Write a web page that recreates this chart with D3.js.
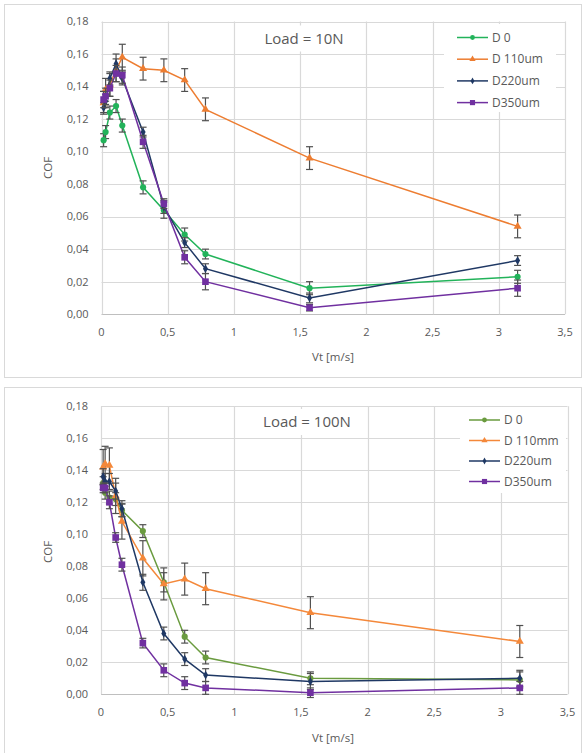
<!DOCTYPE html>
<html>
<head>
<meta charset="utf-8">
<script src="https://cdn.jsdelivr.net/npm/d3@7"></script>
<style>
  html, body { margin: 0; padding: 0; background: #fff; }
  svg { display: block; font-family: "Open Sans", "Liberation Sans", sans-serif; }
</style>
</head>
<body>
<svg width="587" height="753"></svg>
<script>
// velocities [m/s]
const vt = [0.016, 0.031, 0.063, 0.11, 0.157, 0.314, 0.471, 0.628, 0.785, 1.571, 3.142];

const xTicks = [0, 0.5, 1, 1.5, 2, 2.5, 3, 3.5];
const yTicks = [0, 0.02, 0.04, 0.06, 0.08, 0.10, 0.12, 0.14, 0.16, 0.18];

// Load = 10N
const d0_10    = [0.107, 0.112, 0.124, 0.128, 0.116, 0.078, 0.064, 0.049, 0.037, 0.016, 0.023];
const d110_10  = [0.130, 0.138, 0.141, 0.150, 0.158, 0.151, 0.150, 0.144, 0.126, 0.096, 0.054];
const d220_10  = [0.127, 0.131, 0.145, 0.154, 0.145, 0.112, 0.066, 0.044, 0.028, 0.010, 0.033];
const d350_10  = [0.132, 0.134, 0.139, 0.148, 0.147, 0.106, 0.068, 0.035, 0.020, 0.004, 0.016];
const e_d0_10   = [0.004, 0.004, 0.004, 0.004, 0.004, 0.004, 0.005, 0.004, 0.003, 0.004, 0.004];
const e_d110_10 = [0.007, 0.007, 0.007, 0.007, 0.008, 0.007, 0.007, 0.007, 0.007, 0.007, 0.007];
const e_d220_10 = [0.003, 0.004, 0.004, 0.006, 0.004, 0.003, 0.004, 0.003, 0.003, 0.003, 0.003];
const e_d350_10 = [0.005, 0.005, 0.005, 0.005, 0.005, 0.004, 0.003, 0.004, 0.005, 0.002, 0.005];

// Load = 100N
const d0_100   = [0.132, 0.126, 0.123, 0.122, 0.115, 0.102, 0.070, 0.036, 0.023, 0.010, 0.009];
const d110_100 = [0.142, 0.144, 0.143, 0.124, 0.108, 0.085, 0.069, 0.072, 0.066, 0.051, 0.033];
const d220_100 = [0.136, 0.133, 0.133, 0.127, 0.116, 0.070, 0.038, 0.022, 0.012, 0.008, 0.010];
const d350_100 = [0.129, 0.129, 0.120, 0.098, 0.081, 0.032, 0.015, 0.007, 0.004, 0.001, 0.004];
const e_d0_100   = [0.004, 0.004, 0.004, 0.004, 0.004, 0.004, 0.006, 0.004, 0.004, 0.004, 0.005];
const e_d110_100 = [0.011, 0.011, 0.011, 0.011, 0.011, 0.011, 0.010, 0.010, 0.010, 0.010, 0.010];
const e_d220_100 = [0.005, 0.005, 0.005, 0.005, 0.005, 0.005, 0.004, 0.004, 0.004, 0.005, 0.005];
const e_d350_100 = [0.003, 0.003, 0.004, 0.003, 0.004, 0.003, 0.004, 0.004, 0.004, 0.003, 0.004];

const labels10  = ["D 0", "D 110um", "D220um", "D350um"];
const labels100 = ["D 0", "D 110mm", "D220um", "D350um"];

const fmt = d => d3.format(".2f")(d).replace(".", ",");
const fmtX = d => String(d).replace(".", ",");

const svg = d3.select("svg");

function drawChart(c) {
  let g = svg.append("g");

  g.append("rect")
    .attr("x", c.box[0] + 0.5).attr("y", c.box[1] + 0.5)
    .attr("width", c.box[2]).attr("height", c.box[3])
    .attr("fill", "#fff").attr("stroke", "#d9d9d9");

  let x = d3.scaleLinear().domain([0, 3.5]).range([c.plot[0], c.plot[1]]);
  let y = d3.scaleLinear().domain([0, 0.18]).range([c.plot[3], c.plot[2]]);

  // grid
  g.append("g").selectAll("line").data(yTicks).join("line")
    .attr("x1", c.plot[0]).attr("x2", c.plot[1])
    .attr("y1", d => Math.round(y(d)) + 0.5).attr("y2", d => Math.round(y(d)) + 0.5)
    .attr("stroke", d => d === 0 ? "#bfbfbf" : "#d9d9d9").attr("stroke-width", 1.2);
  g.append("g").selectAll("line").data(xTicks).join("line")
    .attr("y1", c.plot[2]).attr("y2", c.plot[3])
    .attr("x1", d => Math.round(x(d)) + 0.5).attr("x2", d => Math.round(x(d)) + 0.5)
    .attr("stroke", "#d9d9d9").attr("stroke-width", 1.2);

  // tick labels
  g.append("g").selectAll("text").data(yTicks).join("text")
    .attr("x", c.plot[0] - 13).attr("y", d => y(d)).attr("dy", "0.35em")
    .attr("text-anchor", "end").attr("font-size", 11).attr("fill", "#595959")
    .text(fmt);
  g.append("g").selectAll("text").data(xTicks).join("text")
    .attr("x", d => x(d)).attr("y", c.plot[3] + 18).attr("dy", "0.35em")
    .attr("text-anchor", "middle").attr("font-size", 11).attr("fill", "#595959")
    .text(fmtX);

  // axis titles
  g.append("text")
    .attr("transform", `translate(${c.yTitle[0]},${c.yTitle[1]}) rotate(-90)`)
    .attr("text-anchor", "middle").attr("dy", "0.35em")
    .attr("font-size", 11.5).attr("fill", "#595959").text("COF");
  g.append("text")
    .attr("x", c.xTitle[0]).attr("y", c.xTitle[1]).attr("dy", "0.35em")
    .attr("text-anchor", "middle").attr("font-size", 11.5).attr("fill", "#595959")
    .text("Vt [m/s]");

  // legend background (hides grid)
  let lg = c.legend;
  g.append("rect")
    .attr("x", lg.box[0]).attr("y", lg.box[1]).attr("width", lg.box[2]).attr("height", lg.box[3])
    .attr("fill", "#fff");

  // title
  g.append("rect")
    .attr("x", c.title[0] - 52).attr("y", c.title[1] - 13).attr("width", 104).attr("height", 26)
    .attr("fill", "#fff");
  g.append("text")
    .attr("x", c.title[0]).attr("y", c.title[1]).attr("dy", "0.35em")
    .attr("text-anchor", "middle").attr("font-size", 15).attr("fill", "#595959")
    .text(c.titleText);

  let line = d3.line().x(d => x(d.x)).y(d => y(d.y));

  c.series.forEach(s => {
    let pts = vt.map((v, i) => ({ x: v, y: s.values[i], e: s.err[i] }));
    let sg = g.append("g");

    sg.append("path").datum(pts)
      .attr("d", line).attr("fill", "none")
      .attr("stroke", s.color).attr("stroke-width", 1.5);

    let eb = sg.append("g").attr("stroke", "#505050").attr("stroke-width", 1.2);
    eb.selectAll("line.v").data(pts).join("line").attr("class", "v")
      .attr("x1", d => x(d.x)).attr("x2", d => x(d.x))
      .attr("y1", d => y(d.y - d.e)).attr("y2", d => y(d.y + d.e));
    eb.selectAll("line.t").data(pts).join("line").attr("class", "t")
      .attr("x1", d => x(d.x) - 3.5).attr("x2", d => x(d.x) + 3.5)
      .attr("y1", d => y(d.y + d.e)).attr("y2", d => y(d.y + d.e));
    eb.selectAll("line.b").data(pts).join("line").attr("class", "b")
      .attr("x1", d => x(d.x) - 3.5).attr("x2", d => x(d.x) + 3.5)
      .attr("y1", d => y(d.y - d.e)).attr("y2", d => y(d.y - d.e));

    sg.selectAll("path.m").data(pts).join("path").attr("class", "m")
      .attr("d", d3.symbol(s.symbol, s.size))
      .attr("transform", d => `translate(${x(d.x)},${y(d.y)})`)
      .attr("fill", s.color);
  });

  // legend entries
  c.series.forEach((s, i) => {
    let ly = lg.y0 + i * lg.dy;
    g.append("line")
      .attr("x1", lg.x0).attr("x2", lg.x0 + 31).attr("y1", ly).attr("y2", ly)
      .attr("stroke", s.color).attr("stroke-width", 1.5);
    g.append("path")
      .attr("d", d3.symbol(s.symbol, s.size * 0.6)())
      .attr("transform", `translate(${lg.x0 + 15.5},${ly})`)
      .attr("fill", s.color);
    g.append("text")
      .attr("x", lg.x0 + 35).attr("y", ly).attr("dy", "0.35em")
      .attr("font-size", 12).attr("fill", "#595959")
      .text(c.labels[i]);
  });
}

drawChart({
  box: [4, 4, 577, 373],
  plot: [101.5, 565, 21.5, 314.2],
  title: [304, 38.5], titleText: "Load = 10N",
  yTitle: [48, 168], xTitle: [333, 357],
  legend: { box: [444, 24, 112, 88], x0: 457, y0: 37.5, dy: 21.7 },
  labels: labels10,
  series: [
    { values: d0_10,   err: e_d0_10,   color: "#22b35a", symbol: d3.symbolCircle,   size: 30 },
    { values: d110_10, err: e_d110_10, color: "#ed7d31", symbol: d3.symbolTriangle, size: 28 },
    { values: d220_10, err: e_d220_10, color: "#1f3864", symbol: d3.symbolDiamond,  size: 22 },
    { values: d350_10, err: e_d350_10, color: "#7030a0", symbol: d3.symbolSquare,   size: 44 }
  ]
});

drawChart({
  box: [4, 387, 577, 370],
  plot: [101, 567.5, 406.3, 694.3],
  title: [307, 422], titleText: "Load = 100N",
  yTitle: [48, 552], xTitle: [333, 738],
  legend: { box: [460, 407, 106, 86], x0: 469, y0: 420, dy: 20.5 },
  labels: labels100,
  series: [
    { values: d0_100,   err: e_d0_100,   color: "#6a9b3f", symbol: d3.symbolCircle,   size: 30 },
    { values: d110_100, err: e_d110_100, color: "#f4883a", symbol: d3.symbolTriangle, size: 28 },
    { values: d220_100, err: e_d220_100, color: "#1f3864", symbol: d3.symbolDiamond,  size: 22 },
    { values: d350_100, err: e_d350_100, color: "#7030a0", symbol: d3.symbolSquare,   size: 44 }
  ]
});
</script>
</body>
</html>
